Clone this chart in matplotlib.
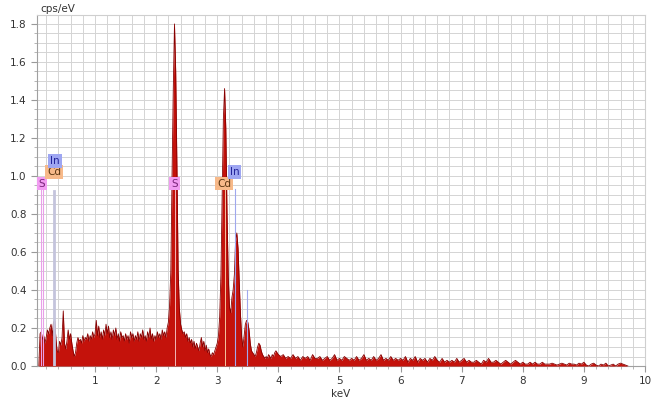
"""
EDS spectrum (S, Cd, In) -- cps/eV against keV
"""

import matplotlib.pyplot as plt
import numpy as np


# energy grid of the low part (0.08 .. 4.00 keV, 0.02 keV steps)
energy_lo = np.round(np.arange(0.08, 4.0001, 0.02), 2)
counts_lo = [
    0.00, 0.17, 0.18, 0.14, 0.16, 0.12, 0.15, 0.19, 0.17, 0.20,
    0.22, 0.16, 0.23, 0.24, 0.14, 0.08, 0.07, 0.13, 0.11, 0.15,
    0.29, 0.12, 0.09, 0.13, 0.19, 0.14, 0.17, 0.12, 0.08, 0.05,
    0.07, 0.12, 0.15, 0.13, 0.14, 0.12, 0.16, 0.13, 0.15, 0.14,
    0.17, 0.13, 0.16, 0.14, 0.18, 0.15, 0.17, 0.24, 0.16, 0.21,
    0.15, 0.18, 0.14, 0.19, 0.16, 0.22, 0.17, 0.21, 0.15, 0.18,
    0.14, 0.19, 0.16, 0.20, 0.14, 0.17, 0.13, 0.18, 0.15, 0.16,
    0.13, 0.17, 0.14, 0.16, 0.12, 0.18, 0.15, 0.17, 0.13, 0.16,
    0.14, 0.18, 0.13, 0.17, 0.15, 0.19, 0.14, 0.16, 0.13, 0.18,
    0.15, 0.20, 0.14, 0.17, 0.13, 0.16, 0.14, 0.18, 0.15, 0.17,
    0.14, 0.19, 0.16, 0.18, 0.15, 0.20, 0.23, 0.32, 0.50, 1.00,
    1.45, 1.80, 1.55, 1.05, 0.50, 0.30, 0.22, 0.19, 0.17, 0.18,
    0.15, 0.17, 0.13, 0.15, 0.12, 0.14, 0.10, 0.13, 0.09, 0.12,
    0.10, 0.08, 0.12, 0.15, 0.10, 0.13, 0.08, 0.11, 0.07, 0.09,
    0.06, 0.05, 0.07, 0.06, 0.08, 0.10, 0.12, 0.16, 0.26, 0.48,
    0.90, 1.30, 1.46, 1.25, 0.80, 0.47, 0.31, 0.28, 0.36, 0.40,
    0.48, 0.66, 0.70, 0.62, 0.44, 0.27, 0.15, 0.10, 0.16, 0.22,
    0.24, 0.23, 0.19, 0.12, 0.08, 0.07, 0.06, 0.05, 0.07, 0.10,
    0.12, 0.11, 0.08, 0.06, 0.05, 0.04, 0.05, 0.04, 0.06, 0.05,
    0.04, 0.06, 0.05, 0.07, 0.08, 0.07, 0.06,
]

# high part (4.04 .. 9.72 keV, 0.04 keV steps)
energy_hi = np.round(np.arange(4.04, 9.7201, 0.04), 2)
counts_hi = [
    0.05, 0.06, 0.04, 0.05, 0.04, 0.06, 0.04, 0.05, 0.03, 0.05,
    0.04, 0.05, 0.03, 0.06, 0.04, 0.04, 0.05, 0.03, 0.04, 0.05,
    0.03, 0.04, 0.06, 0.03, 0.04, 0.03, 0.05, 0.04, 0.03, 0.04,
    0.03, 0.05, 0.03, 0.04, 0.06, 0.03, 0.04, 0.03, 0.05, 0.03,
    0.04, 0.06, 0.03, 0.04, 0.03, 0.05, 0.03, 0.04, 0.03, 0.04,
    0.03, 0.05, 0.02, 0.04, 0.03, 0.05, 0.02, 0.04, 0.03, 0.04,
    0.02, 0.04, 0.03, 0.05, 0.03, 0.02, 0.04, 0.02, 0.03, 0.02,
    0.03, 0.02, 0.04, 0.02, 0.03, 0.04, 0.02, 0.03, 0.02, 0.02,
    0.03, 0.02, 0.01, 0.03, 0.02, 0.04, 0.02, 0.02, 0.03, 0.02,
    0.01, 0.02, 0.03, 0.02, 0.01, 0.02, 0.03, 0.02, 0.01, 0.02,
    0.01, 0.01, 0.02, 0.01, 0.02, 0.01, 0.01, 0.02, 0.01, 0.01,
    0.01, 0.015, 0.01, 0.005, 0.01, 0.015, 0.01, 0.005, 0.015, 0.01,
    0.01, 0.005, 0.015, 0.01, 0.02, 0.005, 0.0, 0.01, 0.015, 0.005,
    0.0, 0.01, 0.005, 0.015, 0.0, 0.005, 0.01, 0.0, 0.01, 0.015,
    0.01, 0.005, 0.0,
]

# element labels: (label, energy, label height, box colour, text colour)
markers = [
    ("S",  0.13, 0.96, "#f29cf2", "#7a237a"),
    ("Cd", 0.33, 1.02, "#f7b989", "#5a3510"),
    ("In", 0.345, 1.08, "#9ea6f2", "#23239a"),
    ("S",  2.30, 0.96, "#f29cf2", "#7a237a"),
    ("Cd", 3.11, 0.96, "#f7b989", "#5a3510"),
    ("In", 3.28, 1.02, "#9ea6f2", "#23239a"),
]
# thin line markers: (energy, top, colour, width)
lines = [
    (0.11, 0.93, "#e8a0e8", 0.8),
    (0.15, 0.93, "#e8a0e8", 0.8),
    (0.33, 0.92, "#c4c4dc", 2.0),
    (2.31, 0.93, "#f0b8b8", 0.7),
    (3.13, 0.93, "#f3c4a0", 0.7),
    (3.29, 0.93, "#a0a8ee", 0.8),
    (3.49, 0.40, "#a0a8ee", 0.8),
]

energy = np.concatenate([energy_lo, energy_hi])
counts = np.concatenate([counts_lo, counts_hi])


fig = plt.figure(figsize=(6.57, 4.03), dpi=100)
ax = fig.add_axes([0.0563, 0.0918, 0.9254, 0.871])

ax.fill_between(energy, 0, counts, color="#c4120b", linewidth=0, zorder=3)
ax.plot(energy, counts, color="#860000", linewidth=0.6, zorder=4)

for (e, top, c, w) in lines:
    ax.plot([e, e], [0, top], color=c, linewidth=w, zorder=5)

for (lab, e, h, fc, tc) in markers:
    ax.text(e, h, lab, ha="center", va="center", fontsize=7.5, color=tc, zorder=6,
            bbox=dict(boxstyle="square,pad=0.18", fc=fc, ec="none"))

ax.set_xlim(0.05, 10)
ax.set_ylim(0, 1.847)
ax.set_xticks(np.arange(1, 11))
ax.set_xticks(np.arange(0.2, 10.0, 0.2), minor=True)
ax.set_yticks(np.arange(0, 1.81, 0.2))
ax.set_yticks(np.arange(0, 1.85, 0.05), minor=True)
ax.set_yticklabels(["%.1f" % v for v in np.arange(0, 1.81, 0.2)])
ax.grid(True, which="both", color="#d4d4d4", linewidth=0.7, zorder=0)
ax.set_axisbelow(True)

ax.tick_params(axis="both", which="major", labelsize=7.5, labelcolor="#333333",
               color="#999999", length=4, width=0.8)
ax.tick_params(axis="both", which="minor", color="#aaaaaa", length=2, width=0.6)

for s in ["top", "right"]:
    ax.spines[s].set_color("#cfcfcf")
for s in ["left", "bottom"]:
    ax.spines[s].set_color("#a0a0a0")

ax.set_xlabel("keV", fontsize=7.5, color="#333333", labelpad=2)
fig.text(0.061, 0.978, "cps/eV", fontsize=7.5, color="#333333", ha="left", va="center")

fig.savefig("out.png", dpi=100)
